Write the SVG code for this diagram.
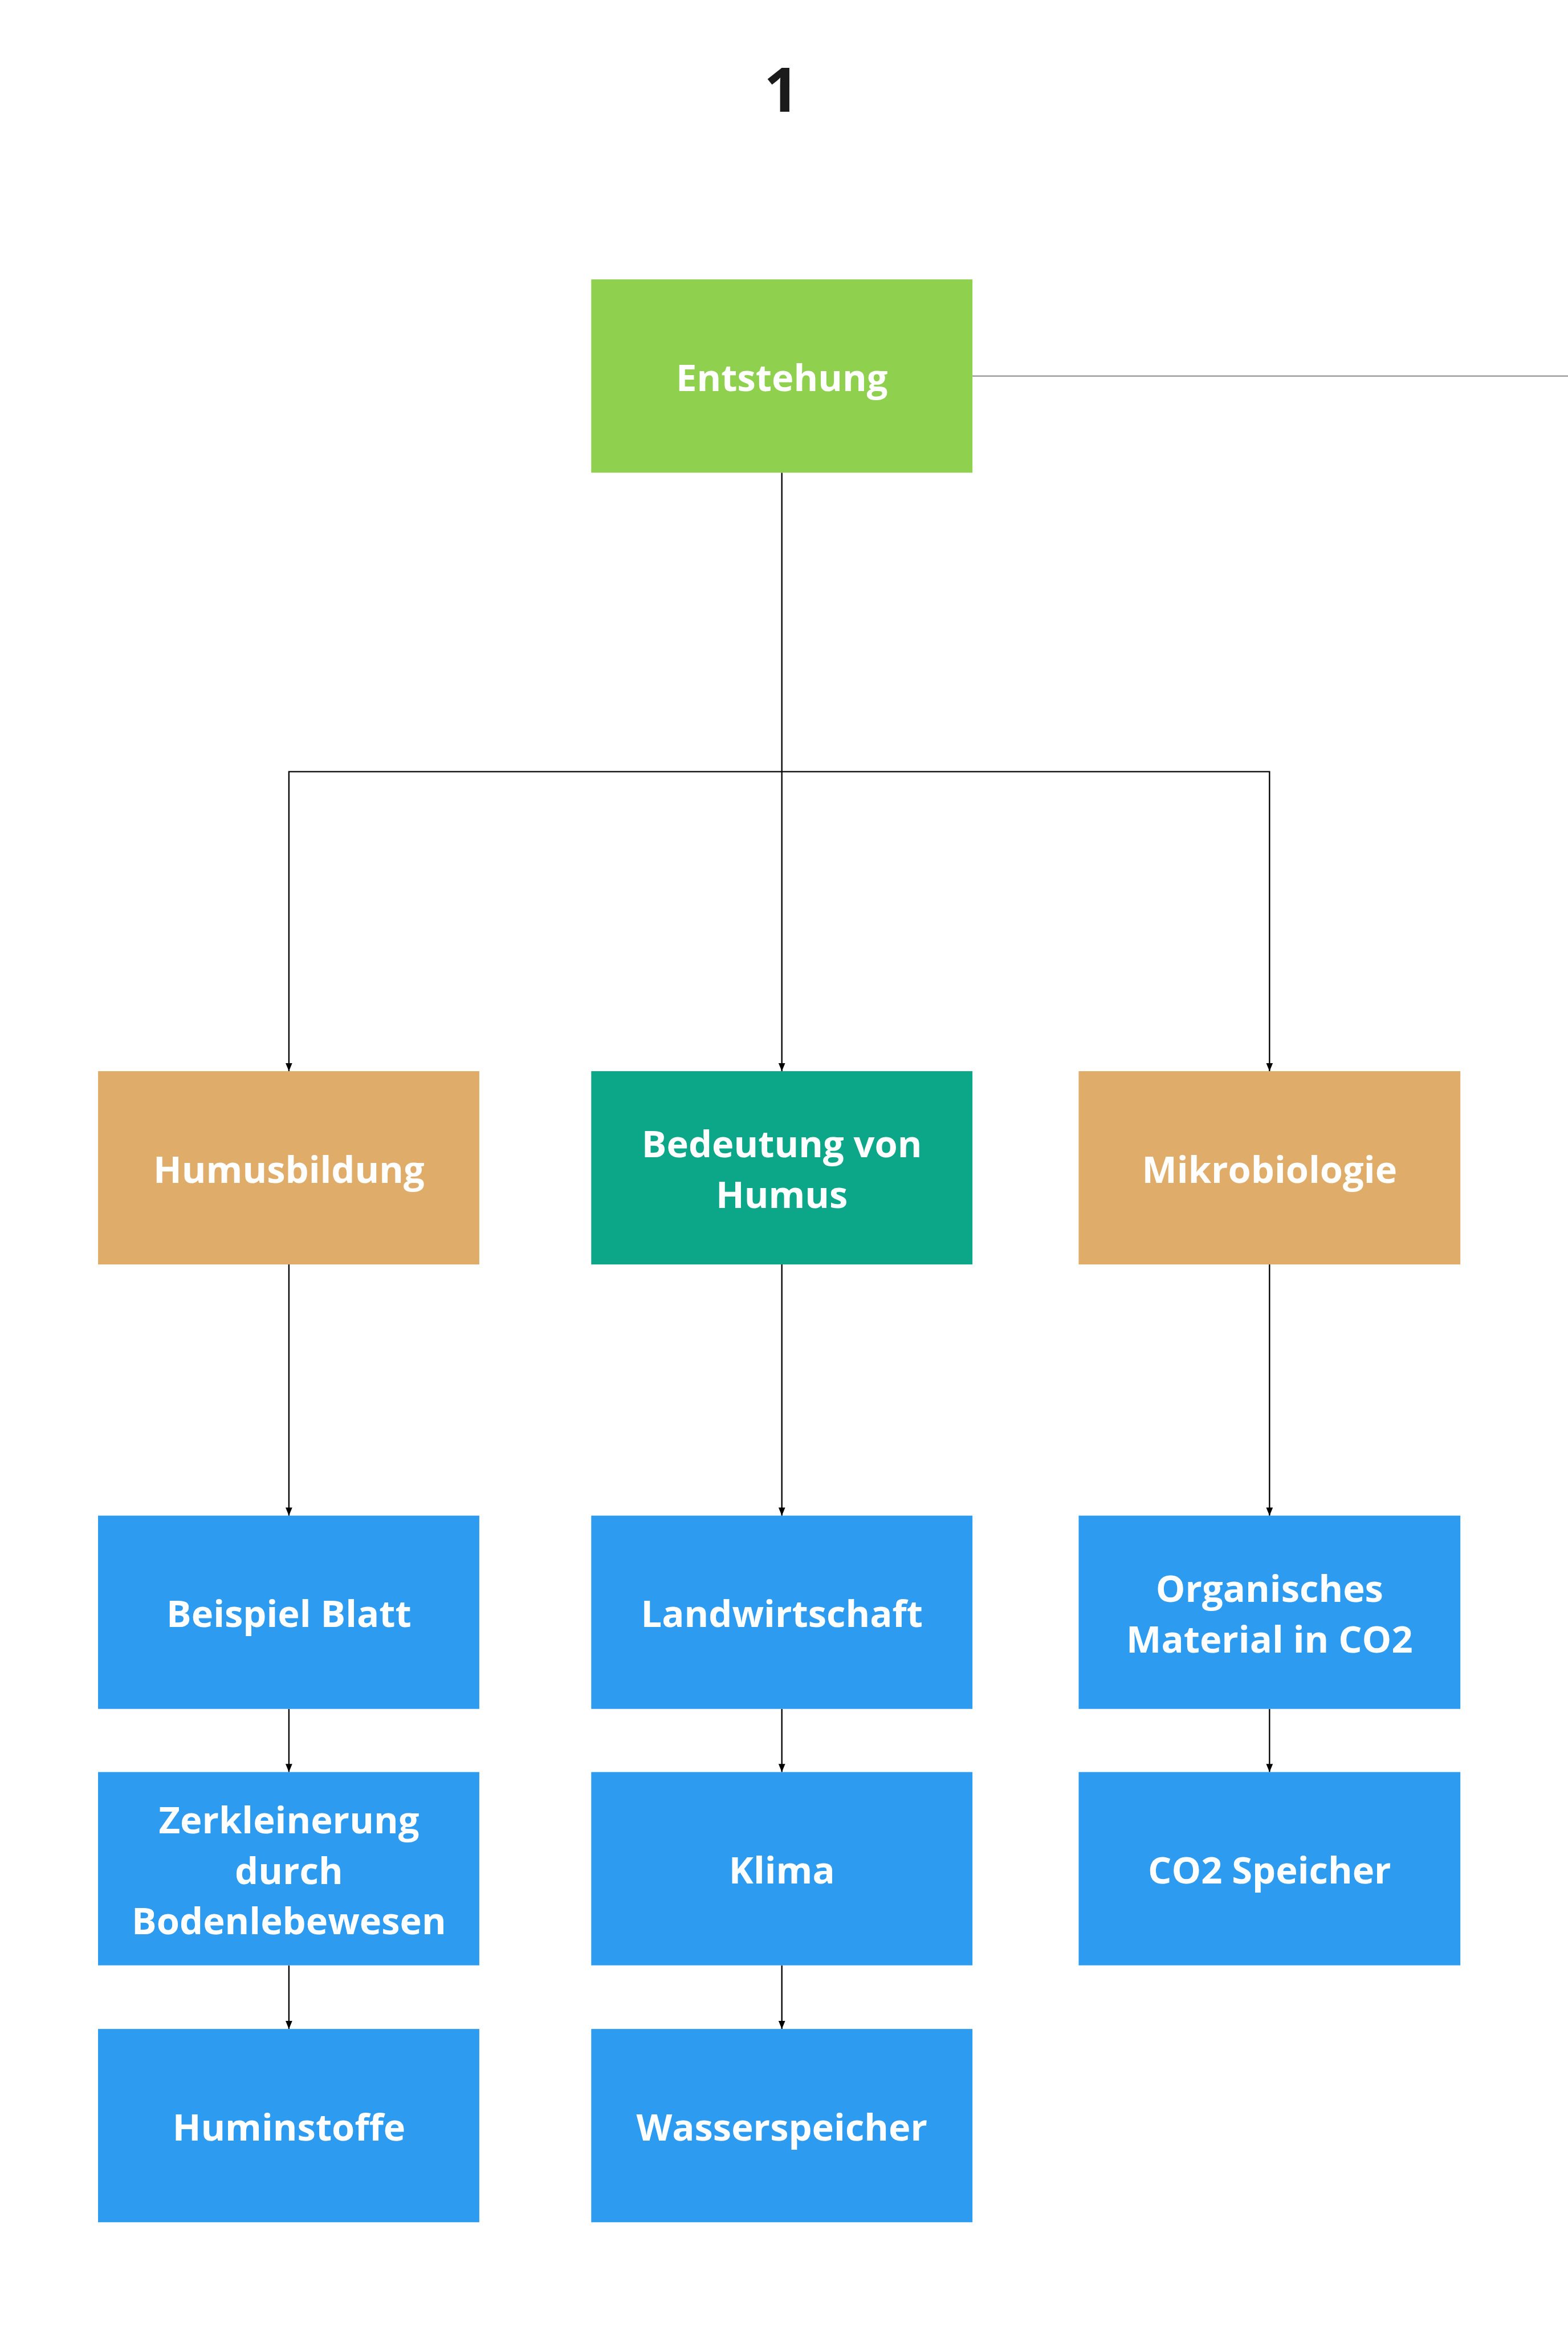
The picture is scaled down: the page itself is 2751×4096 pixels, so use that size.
<svg xmlns="http://www.w3.org/2000/svg" width="2751" height="4096" viewBox="0 0 2751 4096">
<style>
.lbl{font-family:"Open Sans","Noto Sans","DejaVu Sans",sans-serif;font-weight:700;font-size:77.5px;fill:#ffffff;text-anchor:middle}
.title{font-family:"Open Sans","Noto Sans","DejaVu Sans",sans-serif;font-weight:700;font-size:129px;fill:#1b1b1b;text-anchor:middle}
.green{fill:#8FD14F}
.orange{fill:#E0AC69}
.teal{fill:#0CA789}
.blue{fill:#2D9BF0}
.conn{fill:none;stroke:#000000;stroke-width:2.8}
.side{fill:none;stroke:#777777;stroke-width:2}
</style>
<defs>
<marker id="arr" markerUnits="userSpaceOnUse" markerWidth="17" markerHeight="14" refX="17" refY="7" orient="auto">
<path d="M0,0 L17,7 L0,14 z" fill="#000000"/>
</marker>
</defs>
<rect x="0" y="0" width="2751" height="4096" fill="#ffffff"/>
<g transform="scale(0.83923)">
<text class="title" x="1634" y="233">1</text>
<g id="connectors">
<path class="side" d="M2033,786 H3278"/>
<path class="conn" d="M1634.5,988 V2239" marker-end="url(#arr)"/>
<path class="conn" d="M1634.5,1613 H604 V2239" marker-end="url(#arr)"/>
<path class="conn" d="M1634.5,1613 H2654 V2239" marker-end="url(#arr)"/>
<path class="conn" d="M604,2643 V3168" marker-end="url(#arr)"/>
<path class="conn" d="M604,3572 V3704" marker-end="url(#arr)"/>
<path class="conn" d="M604,4108 V4241" marker-end="url(#arr)"/>
<path class="conn" d="M1634.5,2643 V3168" marker-end="url(#arr)"/>
<path class="conn" d="M1634.5,3572 V3704" marker-end="url(#arr)"/>
<path class="conn" d="M1634.5,4108 V4241" marker-end="url(#arr)"/>
<path class="conn" d="M2654,2643 V3168" marker-end="url(#arr)"/>
<path class="conn" d="M2654,3572 V3704" marker-end="url(#arr)"/>
</g>
<g id="n-entstehung"><rect class="green" x="1236" y="584" width="797" height="404"/><text class="lbl" x="1634.5" y="817">Entstehung</text></g>
<g id="n-humusbildung"><rect class="orange" x="205" y="2239" width="797" height="404"/><text class="lbl" x="604" y="2472">Humusbildung</text></g>
<g id="n-bedeutung"><rect class="teal" x="1236" y="2239" width="797" height="404"/><text class="lbl" x="1634.5" y="2419">Bedeutung von</text><text class="lbl" x="1634.5" y="2525">Humus</text></g>
<g id="n-mikrobiologie"><rect class="orange" x="2255" y="2239" width="798" height="404"/><text class="lbl" x="2654" y="2472">Mikrobiologie</text></g>
<g id="n-beispiel"><rect class="blue" x="205" y="3168" width="797" height="404"/><text class="lbl" x="604" y="3401">Beispiel Blatt</text></g>
<g id="n-landwirtschaft"><rect class="blue" x="1236" y="3168" width="797" height="404"/><text class="lbl" x="1634.5" y="3401">Landwirtschaft</text></g>
<g id="n-organisches"><rect class="blue" x="2255" y="3168" width="798" height="404"/><text class="lbl" x="2654" y="3348">Organisches</text><text class="lbl" x="2654" y="3454">Material in CO2</text></g>
<g id="n-zerkleinerung"><rect class="blue" x="205" y="3704" width="797" height="404"/><text class="lbl" x="604" y="3832">Zerkleinerung</text><text class="lbl" x="604" y="3938">durch</text><text class="lbl" x="604" y="4043">Bodenlebewesen</text></g>
<g id="n-klima"><rect class="blue" x="1236" y="3704" width="797" height="404"/><text class="lbl" x="1634.5" y="3937">Klima</text></g>
<g id="n-co2speicher"><rect class="blue" x="2255" y="3704" width="798" height="404"/><text class="lbl" x="2654" y="3937">CO2 Speicher</text></g>
<g id="n-huminstoffe"><rect class="blue" x="205" y="4241" width="797" height="404"/><text class="lbl" x="604" y="4474">Huminstoffe</text></g>
<g id="n-wasserspeicher"><rect class="blue" x="1236" y="4241" width="797" height="404"/><text class="lbl" x="1634.5" y="4474">Wasserspeicher</text></g>
</g>
</svg>
